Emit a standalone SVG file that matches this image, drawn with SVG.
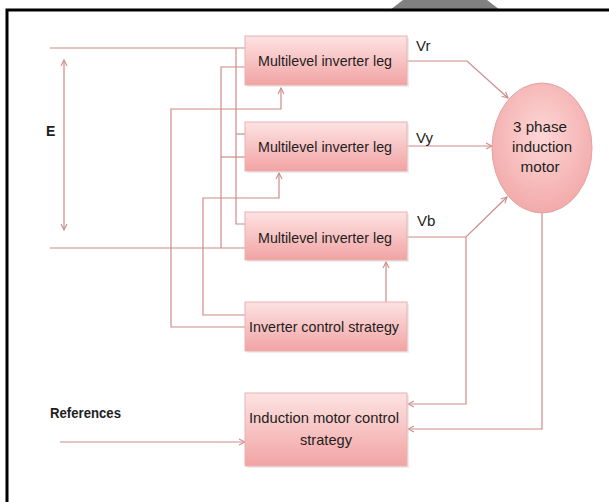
<svg xmlns="http://www.w3.org/2000/svg" width="609" height="502" viewBox="0 0 609 502">
  <defs>
    <linearGradient id="boxGrad" x1="0" y1="0" x2="0" y2="1">
      <stop offset="0" stop-color="#fde3e3"/>
      <stop offset="1" stop-color="#f2a3a3"/>
    </linearGradient>
    <radialGradient id="ellGrad" cx="0.5" cy="0.4" r="0.6">
      <stop offset="0" stop-color="#fdd6d6"/>
      <stop offset="1" stop-color="#f3aaaa"/>
    </radialGradient>
    <marker id="arr" viewBox="0 0 8 8" refX="7" refY="4" markerWidth="8" markerHeight="8" markerUnits="userSpaceOnUse" orient="auto-start-reverse">
      <path d="M1,1 L7,4 L1,7" fill="none" stroke="#cf8a8a" stroke-width="1.1"/>
    </marker>
    <style>
      .box { fill: url(#boxGrad); stroke: #e9b1b1; stroke-width: 1; }
      .shadow { fill: #d9d9d9; opacity: 0.5; }
      .lbl { font-family: "Liberation Sans", Arial, sans-serif; font-size: 15px; fill: #1e1e1e; }
      .bold { font-family: "Liberation Sans", Arial, sans-serif; font-size: 14px; font-weight: bold; fill: #1e1e1e; }
      .wire { fill: none; stroke: #cf8a8a; stroke-width: 1.2; }
    </style>
  </defs>

  <rect x="0" y="0" width="609" height="502" fill="#ffffff"/>
  <!-- frame -->
  <path d="M390,10 L403,0 L487,0 L500,10 Z" fill="#808080"/>
  <path d="M7,502 L7,10 L609,10" fill="none" stroke="#000" stroke-width="3"/>

  <g id="connectors">
    <!-- DC rails -->
    <path class="wire" d="M50,48 L245,48"/>
    <path class="wire" d="M50,248 L245,248"/>
    <path class="wire" d="M236,48 L236,224 L245,224"/>
    <path class="wire" d="M236,134 L245,134"/>
    <path class="wire" d="M245,67 L221,67 L221,248"/>
    <path class="wire" d="M221,157 L245,157"/>
    <!-- E arrow -->
    <path class="wire" d="M64,60 L64,230" marker-start="url(#arr)" marker-end="url(#arr)"/>
    <!-- control signals -->
    <path class="wire" d="M245,327 L171,327 L171,109 L281,109 L281,88" marker-end="url(#arr)"/>
    <path class="wire" d="M245,315 L203,315 L203,198 L279,198 L279,173" marker-end="url(#arr)"/>
    <path class="wire" d="M386,302 L386,262" marker-end="url(#arr)"/>
    <!-- outputs to motor -->
    <path class="wire" d="M407,61 L467,61 L508,98" marker-end="url(#arr)"/>
    <path class="wire" d="M407,146 L492,146" marker-end="url(#arr)"/>
    <path class="wire" d="M407,237 L466,237 L507,197" marker-end="url(#arr)"/>
    <path class="wire" d="M466,237 L466,404 L408,404" marker-end="url(#arr)"/>
    <path class="wire" d="M542,213 L542,429 L408,429" marker-end="url(#arr)"/>
    <!-- references -->
    <path class="wire" d="M60,442 L245,442" marker-end="url(#arr)"/>
  </g>

  <g id="E-label"><text class="bold" x="46" y="136">E</text></g>
  <g id="references-label"><text class="bold" x="50" y="418" textLength="71" lengthAdjust="spacingAndGlyphs">References</text></g>
  <g id="Vr-label"><text class="lbl" x="416" y="51">Vr</text></g>
  <g id="Vy-label"><text class="lbl" x="416" y="143">Vy</text></g>
  <g id="Vb-label"><text class="lbl" x="417" y="226">Vb</text></g>

  <g id="leg1">
    <rect class="shadow" x="247" y="38" width="162" height="49"/>
    <rect class="box" x="245" y="36" width="162" height="49"/>
    <text class="lbl" x="325" y="66" text-anchor="middle" textLength="134" lengthAdjust="spacingAndGlyphs">Multilevel inverter leg</text>
  </g>
  <g id="leg2">
    <rect class="shadow" x="247" y="124" width="162" height="49"/>
    <rect class="box" x="245" y="122" width="162" height="49"/>
    <text class="lbl" x="325" y="152" text-anchor="middle" textLength="134" lengthAdjust="spacingAndGlyphs">Multilevel inverter leg</text>
  </g>
  <g id="leg3">
    <rect class="shadow" x="247" y="214" width="162" height="48"/>
    <rect class="box" x="245" y="212" width="162" height="48"/>
    <text class="lbl" x="325" y="243" text-anchor="middle" textLength="134" lengthAdjust="spacingAndGlyphs">Multilevel inverter leg</text>
  </g>
  <g id="inverter-control">
    <rect class="shadow" x="247" y="304" width="162" height="49"/>
    <rect class="box" x="245" y="302" width="162" height="49"/>
    <text class="lbl" x="324" y="332" text-anchor="middle" textLength="150" lengthAdjust="spacingAndGlyphs">Inverter control strategy</text>
  </g>
  <g id="motor-control">
    <rect class="shadow" x="247" y="395" width="162" height="73"/>
    <rect class="box" x="245" y="393" width="162" height="73"/>
    <text class="lbl" x="324" y="423" text-anchor="middle" textLength="150" lengthAdjust="spacingAndGlyphs">Induction motor control</text>
    <text class="lbl" x="326" y="445" text-anchor="middle" textLength="52" lengthAdjust="spacingAndGlyphs">strategy</text>
  </g>
  <g id="motor">
    <ellipse cx="542" cy="148" rx="50" ry="65" fill="url(#ellGrad)" stroke="#e3a3a3" stroke-width="1"/>
    <text class="lbl" x="540" y="132" text-anchor="middle" textLength="54" lengthAdjust="spacingAndGlyphs">3 phase</text>
    <text class="lbl" x="542" y="152" text-anchor="middle" textLength="60" lengthAdjust="spacingAndGlyphs">induction</text>
    <text class="lbl" x="540" y="172" text-anchor="middle" textLength="39" lengthAdjust="spacingAndGlyphs">motor</text>
  </g>
</svg>
